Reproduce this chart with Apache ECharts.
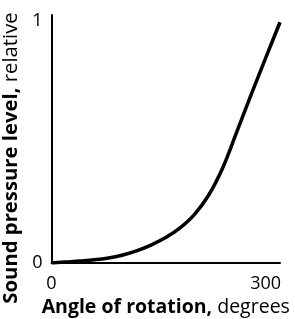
<!DOCTYPE html>
<html><head><meta charset="utf-8">
<script src="https://cdn.jsdelivr.net/npm/echarts@6/dist/echarts.min.js"></script>
<style>html,body{margin:0;padding:0;background:#fff}#c{width:295px;height:319px}</style>
</head><body><div id="c"></div>
<script>
const angles = [0, 20, 40, 60, 80, 100, 120, 140, 160, 180, 200, 220, 240, 260, 280, 300, 320];
const levels = [0, 0.004, 0.008, 0.013, 0.021, 0.033, 0.051, 0.075, 0.105, 0.145, 0.200, 0.280, 0.395, 0.546, 0.699, 0.848, 0.995];
const xTicks = [0, 300];
const yTicks = [0, 1];
const xName = ['Angle of rotation,', ' degrees'];
const yName = ['Sound pressure level,', ' relative'];

const chart = echarts.init(document.getElementById('c'));
const font = 'Open Sans';
chart.setOption({
  animation: false,
  grid: {left: 51.5, right: 15, top: 15, bottom: 56, containLabel: false, outerBoundsMode: 'none'},
  xAxis: {
    type: 'value', min: 0, max: 320, interval: 300,
    axisLine: {lineStyle: {color: '#000', width: 2}},
    axisTick: {show: false}, splitLine: {show: false},
    axisLabel: {margin: 12, color: '#000', fontSize: 18, fontFamily: font, showMaxLabel: false,
      formatter: v => xTicks.includes(v) ? String(v) : ''},
    name: '{b|' + xName[0] + '}{n|' + xName[1] + '}',
    nameLocation: 'middle', nameGap: 30,
    nameTextStyle: {rich: {
      b: {fontWeight: 'bold', fontSize: 19.5, fontFamily: font, color: '#000'},
      n: {fontSize: 19.5, fontFamily: font, color: '#000'}}}
  },
  yAxis: {
    type: 'value', min: 0, max: 1.025, interval: 1,
    axisLine: {lineStyle: {color: '#000', width: 2}},
    axisTick: {show: false}, splitLine: {show: false},
    axisLabel: {margin: 9, color: '#000', fontSize: 18, fontFamily: font, showMaxLabel: false,
      formatter: v => yTicks.includes(v) ? String(v) : ''},
    name: '{b|' + yName[0] + '}{n|' + yName[1] + '}',
    nameLocation: 'middle', nameGap: 16,
    nameTextStyle: {padding: [0, 38, 0, 0], rich: {
      b: {fontWeight: 'bold', fontSize: 20.3, fontFamily: font, color: '#000'},
      n: {fontSize: 20.3, fontFamily: font, color: '#000'}}}
  },
  series: [{
    type: 'line', smooth: 0.4, showSymbol: false,
    lineStyle: {color: '#000', width: 3.5},
    data: angles.map((a, i) => [a, levels[i]])
  }]
});
</script></body></html>
